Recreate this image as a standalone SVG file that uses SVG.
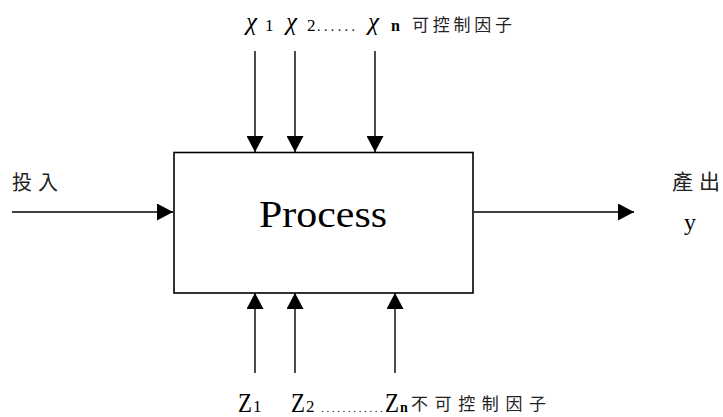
<svg xmlns="http://www.w3.org/2000/svg" width="723" height="417" viewBox="0 0 723 417">
  <style>
    .line { stroke: #000; stroke-width: 1.4; fill: none; }
    .box { stroke: #000; stroke-width: 1.6; fill: #fff; }
    .lat { font-family: "Liberation Serif", "DejaVu Serif", serif; fill: #000; }
    .cjk { font-family: "Noto Sans CJK TC", sans-serif; fill: #222; }
  </style>
  <defs>
    <marker id="arrow" viewBox="0 0 16 17" refX="16" refY="8.5" markerWidth="16" markerHeight="17" markerUnits="userSpaceOnUse" orient="auto">
      <path d="M0,0 L16,8.5 L0,17 Z" fill="#000"/>
    </marker>
  </defs>

  <!-- process block -->
  <g id="process">
    <rect class="box" x="174" y="152.5" width="299" height="140.5"/>
    <text class="lat" x="259" y="227" font-size="38" textLength="128" lengthAdjust="spacingAndGlyphs">Process</text>
  </g>

  <!-- connectors -->
  <g id="connectors">
    <line class="line" x1="12" y1="212" x2="173" y2="212" marker-end="url(#arrow)"/>
    <line class="line" x1="474" y1="212" x2="634" y2="212" marker-end="url(#arrow)"/>
    <line class="line" x1="255" y1="51" x2="255" y2="152" marker-end="url(#arrow)"/>
    <line class="line" x1="295" y1="51" x2="295" y2="152" marker-end="url(#arrow)"/>
    <line class="line" x1="375" y1="51" x2="375" y2="152" marker-end="url(#arrow)"/>
    <line class="line" x1="255" y1="373" x2="255" y2="293" marker-end="url(#arrow)"/>
    <line class="line" x1="295" y1="373" x2="295" y2="293" marker-end="url(#arrow)"/>
    <line class="line" x1="395" y1="373" x2="395" y2="293" marker-end="url(#arrow)"/>
  </g>

  <!-- input label -->
  <g id="input">
    <text class="cjk" x="12" y="190" font-size="20">投</text>
    <text class="cjk" x="38" y="190" font-size="20">入</text>
  </g>

  <!-- output label -->
  <g id="output">
    <text class="cjk" x="672" y="189" font-size="21">產</text>
    <text class="cjk" x="699" y="189" font-size="21">出</text>
    <text class="lat" x="684" y="230" font-size="24">y</text>
  </g>

  <!-- controllable factors -->
  <g id="controllable">
    <text class="lat" x="246" y="30" font-size="25" font-style="italic">χ</text>
    <text class="lat" x="265" y="31" font-size="17">1</text>
    <text class="lat" x="286" y="30" font-size="25" font-style="italic">χ</text>
    <text class="lat" x="307" y="31" font-size="17">2</text>
    <text class="lat" x="317" y="31" font-size="14" textLength="38" lengthAdjust="spacing">......</text>
    <text class="lat" x="368" y="30" font-size="25" font-style="italic">χ</text>
    <text class="lat" x="391" y="31" font-size="16" font-weight="bold">n</text>
    <text class="cjk" x="412" y="31" font-size="17" textLength="100" lengthAdjust="spacing">可控制因子</text>
  </g>

  <!-- uncontrollable factors -->
  <g id="uncontrollable">
    <text class="lat" x="238" y="412" font-size="27" textLength="14" lengthAdjust="spacingAndGlyphs">Z</text>
    <text class="lat" x="253" y="412" font-size="17">1</text>
    <text class="lat" x="291" y="412" font-size="27" textLength="14" lengthAdjust="spacingAndGlyphs">Z</text>
    <text class="lat" x="306" y="412" font-size="17">2</text>
    <text class="lat" x="321" y="412" font-size="11" textLength="62" lengthAdjust="spacing">............</text>
    <text class="lat" x="385" y="412" font-size="27" textLength="14" lengthAdjust="spacingAndGlyphs">Z</text>
    <text class="lat" x="400" y="412" font-size="14" font-weight="bold">n</text>
    <text class="cjk" x="411" y="410" font-size="17" textLength="135" lengthAdjust="spacing">不可控制因子</text>
  </g>
</svg>
